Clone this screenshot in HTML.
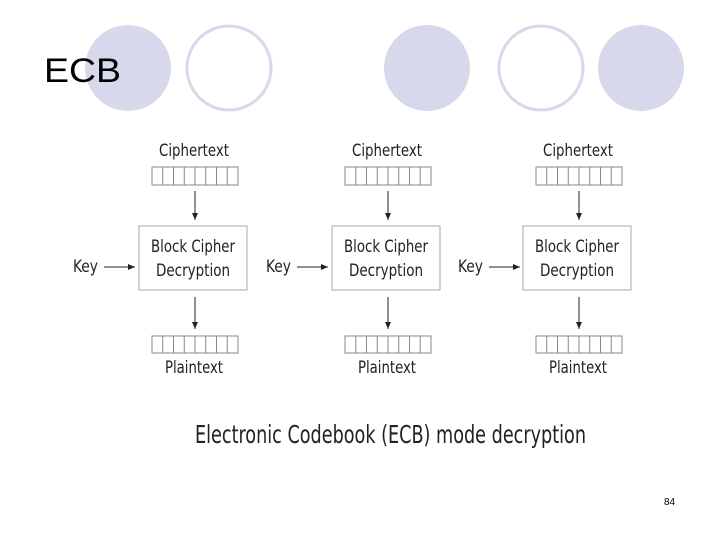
<!DOCTYPE html>
<html><head><meta charset="utf-8"><style>
html,body{margin:0;padding:0;background:#fff;}
svg{display:block;}
.d{font-family:"DejaVu Sans","Liberation Sans",sans-serif;font-stretch:condensed;fill:#222;}
</style></head><body>
<svg width="720" height="540" viewBox="0 0 720 540" xmlns="http://www.w3.org/2000/svg">
<defs>
<marker id="a" markerWidth="8" markerHeight="8" refX="7" refY="4" orient="auto" markerUnits="userSpaceOnUse"><path d="M0,1 L7,4 L0,7 z" fill="#222"/></marker>
<g id="col">
  <text class="d" x="194" y="156" font-size="17" text-anchor="middle" textLength="70" lengthAdjust="spacingAndGlyphs">Ciphertext</text>
  <rect x="152" y="167" width="86" height="18" fill="#fff" stroke="#888"/>
  <path d="M162.75 167v18M173.5 167v18M184.25 167v18M195 167v18M205.75 167v18M216.5 167v18M227.25 167v18" stroke="#888"/>
  <line x1="195" y1="191" x2="195" y2="220" stroke="#222" marker-end="url(#a)"/>
  <rect x="139" y="226" width="108" height="64" fill="#fff" stroke="#aaa"/>
  <text class="d" x="193" y="252" font-size="17" text-anchor="middle" textLength="84" lengthAdjust="spacingAndGlyphs">Block Cipher</text>
  <text class="d" x="193" y="276" font-size="17" text-anchor="middle" textLength="74" lengthAdjust="spacingAndGlyphs">Decryption</text>
  <line x1="195" y1="297" x2="195" y2="329" stroke="#222" marker-end="url(#a)"/>
  <rect x="152" y="336" width="86" height="17" fill="#fff" stroke="#888"/>
  <path d="M162.75 336v17M173.5 336v17M184.25 336v17M195 336v17M205.75 336v17M216.5 336v17M227.25 336v17" stroke="#888"/>
  <text class="d" x="194" y="373" font-size="17" text-anchor="middle" textLength="58" lengthAdjust="spacingAndGlyphs">Plaintext</text>
</g>
<g id="key">
  <text class="d" x="73" y="272" font-size="17" textLength="25" lengthAdjust="spacingAndGlyphs">Key</text>
  <line x1="104" y1="267" x2="135" y2="267" stroke="#222" marker-end="url(#a)"/>
</g>
</defs>
<ellipse cx="128" cy="68" rx="43" ry="43" fill="#d8d8ec"/>
<ellipse cx="229" cy="68" rx="42" ry="42" fill="#fff" stroke="#d8d8ec" stroke-width="3"/>
<ellipse cx="427" cy="68" rx="43" ry="43" fill="#d8d8ec"/>
<ellipse cx="541" cy="68" rx="42" ry="42" fill="#fff" stroke="#d8d8ec" stroke-width="3"/>
<ellipse cx="641" cy="68" rx="43" ry="43" fill="#d8d8ec"/>
<text x="44" y="82" font-family="Liberation Sans, sans-serif" font-size="34" fill="#000" textLength="77" lengthAdjust="spacingAndGlyphs">ECB</text>
<use href="#col"/>
<use href="#col" transform="translate(193,0)"/>
<use href="#col" transform="translate(384,0)"/>
<use href="#key"/>
<use href="#key" transform="translate(193,0)"/>
<use href="#key" transform="translate(385,0)"/>
<text class="d" x="195" y="443" font-size="25" textLength="391" lengthAdjust="spacingAndGlyphs">Electronic Codebook (ECB) mode decryption</text>
<text x="664" y="505" font-family="Liberation Sans, sans-serif" font-size="10" fill="#000">84</text>
</svg>
</body></html>
